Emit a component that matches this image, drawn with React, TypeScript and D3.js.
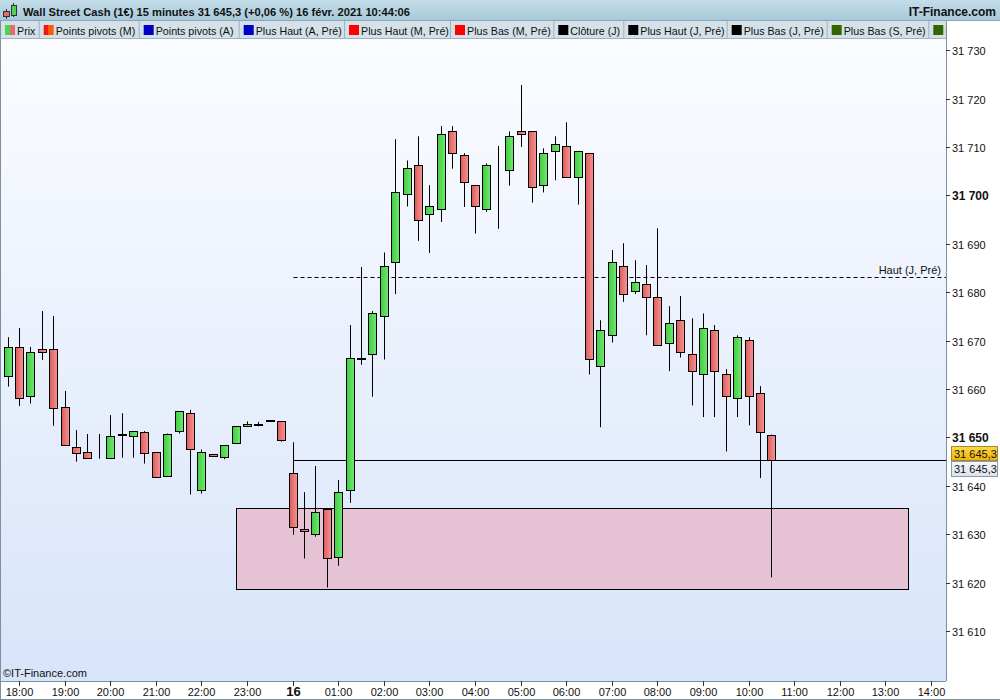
import React from "react";
import * as d3 from "d3";

// 15-minute candles, Wall Street Cash, 15 Feb 17:45 -> 16 Feb 10:30
const firstCandle = new Date(2021, 1, 15, 17, 45);

const opens = [
  31662.6, 31668.6, 31658.5, 31668.2, 31668.2, 31656.2, 31648.0, 31646.9, 31645.9, 31645.7,
  31650.8, 31650.2, 31651.1, 31646.9, 31642.0, 31651.3, 31655.0, 31639.1, 31646.5, 31645.9,
  31648.8, 31652.3, 31652.6, 31653.5, 31653.3, 31642.6, 31631.0, 31630.0, 31635.2, 31625.4,
  31639.1, 31666.1, 31667.2, 31675.0, 31686.2, 31700.2, 31706.2, 31696.1, 31697.1, 31713.2,
  31708.3, 31702.1, 31697.1, 31705.6, 31705.2, 31713.2, 31713.2, 31702.1, 31709.1, 31710.1,
  31703.7, 31708.7, 31664.7, 31671.1, 31685.5, 31680.2, 31681.6, 31679.1, 31669.6, 31674.2,
  31667.2, 31663.0, 31672.1, 31663.0, 31658.1, 31670.1, 31659.1, 31650.6,
];
const highs = [
  31670.7, 31672.6, 31668.7, 31676.1, 31675.1, 31659.6, 31651.5, 31650.7, 31650.7, 31654.6,
  31655.0, 31651.3, 31651.3, 31646.9, 31650.8, 31655.4, 31655.7, 31647.5, 31646.5, 31648.4,
  31652.3, 31653.3, 31653.2, 31653.5, 31653.3, 31649.0, 31638.7, 31644.1, 31635.2, 31641.2,
  31673.2, 31685.2, 31676.1, 31688.2, 31711.6, 31707.2, 31712.2, 31702.1, 31714.3, 31714.3,
  31708.7, 31702.1, 31706.6, 31710.2, 31713.2, 31722.8, 31713.2, 31709.7, 31712.2, 31715.1,
  31709.1, 31708.7, 31674.2, 31688.7, 31690.1, 31686.6, 31685.6, 31693.2, 31677.1, 31679.2,
  31674.6, 31675.6, 31673.2, 31664.1, 31671.1, 31670.7, 31660.6, 31650.6,
];
const lows = [
  31660.5, 31656.5, 31657.0, 31666.0, 31652.4, 31648.4, 31645.0, 31645.7, 31645.6, 31645.7,
  31645.8, 31645.8, 31644.6, 31641.8, 31642.0, 31650.8, 31638.2, 31638.4, 31646.1, 31645.5,
  31648.8, 31652.3, 31652.3, 31653.5, 31649.1, 31629.9, 31625.0, 31629.5, 31619.0, 31623.5,
  31636.5, 31665.0, 31658.4, 31666.1, 31679.6, 31697.7, 31690.6, 31688.1, 31694.5, 31705.5,
  31697.6, 31692.1, 31696.6, 31693.1, 31702.0, 31710.0, 31698.5, 31700.6, 31703.1, 31703.7,
  31698.1, 31663.0, 31652.1, 31669.6, 31678.0, 31679.6, 31671.1, 31669.0, 31663.7, 31666.5,
  31656.6, 31654.2, 31654.2, 31647.1, 31654.2, 31652.5, 31641.6, 31621.1,
];
const closes = [
  31668.6, 31658.1, 31667.6, 31667.6, 31656.0, 31648.4, 31646.7, 31645.7, 31645.9, 31650.2,
  31650.4, 31651.3, 31646.7, 31641.8, 31650.8, 31655.4, 31647.7, 31646.9, 31646.1, 31648.4,
  31652.3, 31652.7, 31652.8, 31653.4, 31649.4, 31631.6, 31630.6, 31634.5, 31625.0, 31638.7,
  31666.5, 31666.5, 31675.6, 31685.5, 31700.6, 31705.6, 31695.0, 31697.7, 31712.6, 31708.7,
  31702.7, 31697.7, 31706.2, 31705.6, 31712.2, 31712.6, 31701.7, 31708.7, 31710.7, 31703.7,
  31709.1, 31666.1, 31672.1, 31686.2, 31679.6, 31682.0, 31679.1, 31669.0, 31673.6, 31667.6,
  31663.7, 31672.5, 31663.7, 31658.5, 31670.7, 31658.5, 31651.1, 31645.3,
];

const lastPrice = 31645.3;
const prevDayHigh = 31683.1;
const zoneTop = 31635.4;
const zoneBottom = 31618.6;
const zoneStart = new Date(2021, 1, 15, 22, 45);
const zoneEnd = new Date(2021, 1, 16, 13, 30);
const sessionStart = new Date(2021, 1, 16, 0, 0);

const yTicks = [31610, 31620, 31630, 31640, 31650, 31660, 31670, 31680, 31690, 31700, 31710, 31720, 31730];
const yBold = [31650, 31700];
const xTickLabels = [
  "18:00", "19:00", "20:00", "21:00", "22:00", "23:00", "16", "01:00", "02:00", "03:00", "04:00",
  "05:00", "06:00", "07:00", "08:00", "09:00", "10:00", "11:00", "12:00", "13:00", "14:00",
];

const title = "Wall Street Cash (1€) 15 minutes 31 645,3 (+0,06 %) 16 févr. 2021 10:44:06";
const legendLabels = [
  "Prix", "Points pivots (M)", "Points pivots (A)", "Plus Haut (A, Pré)", "Plus Haut (M, Pré)",
  "Plus Bas (M, Pré)", "Clôture (J)", "Plus Haut (J, Pré)", "Plus Bas (J, Pré)", "Plus Bas (S, Pré)",
  "Plus Haut (S, Pré)",
];
const legendSwatches = [
  ["#4fd24f", "#e36b6b"], ["#f01a10", "#ff5a00"], ["#0000c8"], ["#0000c8"], ["#ff0000"],
  ["#ff0000"], ["#000000"], ["#000000"], ["#000000"], ["#336600"], ["#336600"],
];

const W = 1000;
const H = 700;
const left = 0;
const right = 946;
const top = 38;
const bottom = 681;
const legendX = [0, 38.7, 138.7, 238.7, 344, 450, 553.3, 623.3, 726.7, 826.7, 928.3];
const font = "'Liberation Sans', Arial, sans-serif";

export default function App() {
  const x = d3
    .scaleTime()
    .domain([new Date(2021, 1, 15, 17, 36, 20), new Date(2021, 1, 16, 14, 19, 45)])
    .range([1, right]);
  const y = d3.scaleLinear().domain([31600, 31730]).range([679.5, 50.1]);

  const candles = opens.map((o, i) => ({
    t: d3.timeMinute.offset(firstCandle, i * 15),
    o,
    h: highs[i],
    l: lows[i],
    c: closes[i],
  }));

  const hourTicks = d3.timeHour.range(new Date(2021, 1, 15, 18), new Date(2021, 1, 16, 14, 1));
  const fmtPrice = (v: number) => d3.format(",")(v).replace(",", " ");
  const snap = (v: number) => Math.round(v) + 0.5;

  const yLast = snap(y(lastPrice));
  const yHigh = snap(y(prevDayHigh));
  const xSession = snap(x(sessionStart));

  return (
    <svg
      width={W}
      height={H}
      style={{ position: "absolute", left: 0, top: 0, background: "#fff" }}
      fontFamily={font}
    >
      <defs>
        <linearGradient id="hdr" x1="0" y1="0" x2="0" y2="1">
          <stop offset="0" stopColor="#c4dde9" />
          <stop offset="1" stopColor="#a8c9da" />
        </linearGradient>
        <linearGradient id="plotBg" x1="0" y1="0" x2="0" y2="1">
          <stop offset="0" stopColor="#fbfcff" />
          <stop offset="1" stopColor="#d8e4fa" />
        </linearGradient>
        <linearGradient id="up" x1="0" y1="0" x2="1" y2="0">
          <stop offset="0" stopColor="#3fcd3f" />
          <stop offset="1" stopColor="#72e872" />
        </linearGradient>
        <linearGradient id="down" x1="0" y1="0" x2="1" y2="0">
          <stop offset="0" stopColor="#de5a5a" />
          <stop offset="1" stopColor="#f59595" />
        </linearGradient>
        <linearGradient id="lastBox" x1="0" y1="0" x2="0" y2="1">
          <stop offset="0" stopColor="#ffd84a" />
          <stop offset="1" stopColor="#f0b400" />
        </linearGradient>
        <linearGradient id="grayBox" x1="0" y1="0" x2="0" y2="1">
          <stop offset="0" stopColor="#f4f7fb" />
          <stop offset="1" stopColor="#dbe3ee" />
        </linearGradient>
        <clipPath id="plotClip">
          <rect x={left} y={top} width={right - left} height={bottom - top} />
        </clipPath>
        <clipPath id="legendClip">
          <rect x={0} y={20} width={right} height={19} />
        </clipPath>
      </defs>

      {/* header */}
      <rect x={0} y={0} width={W} height={20} fill="url(#hdr)" />
      <line x1={0} x2={W} y1={20.5} y2={20.5} stroke="#8aa6b6" />
      <line x1={6.5} x2={6.5} y1={9} y2={19} stroke="#333" />
      <rect x={3.5} y={11.5} width={6} height={5} fill="#e36b6b" stroke="#333" />
      <line x1={13.5} x2={13.5} y1={3} y2={17} stroke="#333" />
      <rect x={11.5} y={5.5} width={5} height={10} fill="#4fd24f" stroke="#333" />
      <text x={23} y={16} fontSize={11.5} fontWeight="bold" fill="#111" textLength={387} lengthAdjust="spacingAndGlyphs">
        {title}
      </text>
      <text x={996} y={16} fontSize={12} fontWeight="bold" fill="#111" textAnchor="end">
        IT-Finance.com
      </text>

      {/* legend bar */}
      <g clipPath="url(#legendClip)">
        <rect x={0} y={21} width={right} height={17} fill="#d4e1e9" />
        {legendLabels.map((lab, i) => {
          const x0 = legendX[i];
          const sw = legendSwatches[i];
          return (
            <g key={lab}>
              {i > 0 && <line x1={x0 + 0.5} x2={x0 + 0.5} y1={21} y2={38} stroke="#9fb2bf" />}
              {sw.map((c, k) => (
                <rect key={k} x={x0 + 5 + (k * 10) / sw.length} y={25} width={10 / sw.length} height={10} fill={c} />
              ))}
              <text x={x0 + 17} y={35} fontSize={10.7} fill="#111">
                {lab}
              </text>
            </g>
          );
        })}
      </g>

      {/* plot area */}
      <rect x={left} y={top} width={right - left} height={bottom - top} fill="url(#plotBg)" />
      <g clipPath="url(#plotClip)">
        <rect
          x={snap(x(zoneStart))}
          y={snap(y(zoneTop))}
          width={Math.round(x(zoneEnd)) - Math.round(x(zoneStart))}
          height={Math.round(y(zoneBottom)) - Math.round(y(zoneTop))}
          fill="#e5c3d5"
          stroke="#000"
        />
        <line x1={xSession} x2={right} y1={yHigh} y2={yHigh} stroke="#000" strokeDasharray="4,3" />
        <line x1={xSession} x2={right} y1={yLast} y2={yLast} stroke="#000" />
        <text x={941} y={yHigh - 4} fontSize={11} textAnchor="end" fill="#111">
          Haut (J, Pré)
        </text>
        {candles.map((d, i) => {
          const cx = snap(x(d.t));
          const yt = Math.round(y(Math.max(d.o, d.c)));
          const yb = Math.round(y(Math.min(d.o, d.c)));
          const fill = d.c > d.o ? "url(#up)" : d.c < d.o ? "url(#down)" : "#000";
          return (
            <g key={i}>
              <line x1={cx} x2={cx} y1={y(d.h)} y2={y(d.l)} stroke="#000" />
              <rect x={cx - 4} y={yt + 0.5} width={8} height={Math.max(0, yb - yt)} fill={fill} stroke="#000" />
            </g>
          );
        })}
        <text x={3} y={677} fontSize={11} fill="#111">
          ©IT-Finance.com
        </text>
      </g>

      {/* frame */}
      <line x1={0.5} x2={0.5} y1={21} y2={H} stroke="#7f909d" />
      <line x1={right + 0.5} x2={right + 0.5} y1={21} y2={bottom} stroke="#7f909d" />
      <line x1={0} x2={right} y1={38.5} y2={38.5} stroke="#9fb2bf" />
      <line x1={0} x2={right} y1={bottom + 0.5} y2={bottom + 0.5} stroke="#7f909d" />
      <line x1={0} x2={W} y1={H - 0.5} y2={H - 0.5} stroke="#7f909d" />

      {/* y axis */}
      {yTicks.map((v) => {
        const yy = snap(y(v));
        const bold = yBold.includes(v);
        return (
          <g key={v}>
            <line x1={right} x2={right + 4} y1={yy} y2={yy} stroke="#333" />
            <text x={right + 6} y={yy + 4} fontSize={bold ? 12 : 11} fontWeight={bold ? "bold" : "normal"} fill="#111">
              {fmtPrice(v)}
            </text>
          </g>
        );
      })}
      <rect x={951.5} y={yLast - 14} width={46} height={14} fill="url(#lastBox)" stroke="#a08a3a" />
      <text x={954} y={yLast - 3} fontSize={11} fill="#111">
        {d3.format(",.1f")(lastPrice).replace(",", " ").replace(".", ",")}
      </text>
      <rect x={951.5} y={yLast + 1} width={46} height={15} fill="url(#grayBox)" stroke="#8a9bb0" />
      <text x={954} y={yLast + 12} fontSize={11} fill="#111">
        {d3.format(",.1f")(lastPrice).replace(",", " ").replace(".", ",")}
      </text>

      {/* x axis */}
      {hourTicks.map((t, i) => {
        const xx = snap(x(t));
        const lab = xTickLabels[i];
        const bold = lab === "16";
        return (
          <g key={i}>
            <line x1={xx} x2={xx} y1={bottom} y2={bottom + 5} stroke="#333" />
            <text
              x={xx}
              y={696}
              fontSize={bold ? 13 : 11}
              fontWeight={bold ? "bold" : "normal"}
              textAnchor="middle"
              fill="#111"
            >
              {lab}
            </text>
          </g>
        );
      })}
    </svg>
  );
}
